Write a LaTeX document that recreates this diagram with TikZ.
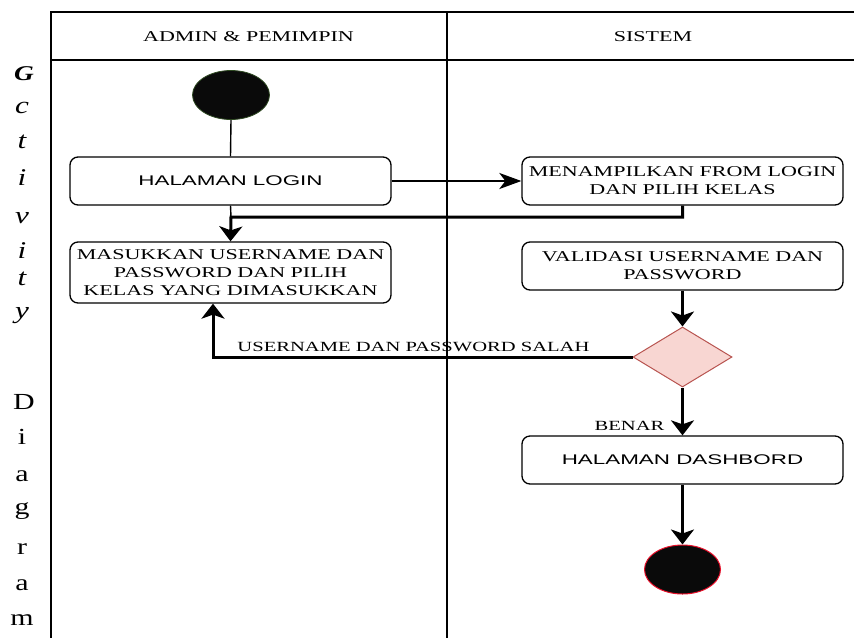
\documentclass[tikz,border=0pt]{standalone}
\usepackage{fontspec}
\setmainfont{Liberation Serif}
\newfontfamily\wideserif[FakeStretch=1.47]{Liberation Serif}
\newfontfamily\widesans[FakeStretch=1.6]{Liberation Sans}
\newfontfamily\sideserif[FakeStretch=1.3]{Liberation Serif}
\usetikzlibrary{arrows.meta,shapes.geometric}

\definecolor{diafill}{HTML}{F8D6D2}
\definecolor{diadraw}{HTML}{B85450}
\definecolor{startrim}{HTML}{2F4A22}
\definecolor{endrim}{HTML}{E8102A}
\definecolor{dot}{HTML}{0A0A0A}

\tikzset{
  lane/.style={line width=1.5pt},
  actbox/.style={draw, line width=1.3pt, rounded corners=8pt, inner sep=0pt,
    minimum width=321pt, minimum height=48pt, align=center,
    font=\wideserif\fontsize{15}{18}\selectfont},
  sansbox/.style={actbox, font=\widesans\fontsize{14}{17}\selectfont},
  thinline/.style={line width=1.4pt},
  flow/.style={line width=3pt,
    -{Stealth[length=15pt,width=23pt,inset=4pt]}},
  flowh/.style={line width=2.4pt,
    -{Stealth[length=22pt,width=16pt,inset=6pt]}},
  lbl/.style={inner sep=0pt, anchor=base, font=\wideserif\fontsize{14}{17}\selectfont},
  head/.style={inner sep=0pt, anchor=base, font=\wideserif\fontsize{15}{18}\selectfont},
  sidelet/.style={inner sep=0pt, font=\sideserif\fontsize{23}{23}\selectfont},
  sideit/.style={inner sep=0pt, font=\sideserif\fontsize{24}{24}\selectfont\itshape},
}

\begin{document}
\begin{tikzpicture}[x=1pt,y=-1pt]
\useasboundingbox (0,0) rectangle (854,638);

% swimlane frame
\draw[lane] (854,12) -- (51,12) -- (51,638);
\draw[lane] (51,60) -- (854,60);
\draw[lane] (447,12) -- (447,638);
\node[head] (hadmin) at (248.5,41) {ADMIN \& PEMIMPIN};
\node[head] (hsys) at (653,41) {SISTEM};

% vertical title beside the frame
\node[sideit, font=\sideserif\fontsize{21}{21}\selectfont\bfseries\itshape] (l1) at (24,74) {G};
\node[sideit] (l2) at (22,108) {c};
\node[sideit] (l3) at (22,142) {t};
\node[sideit] (l4) at (22,178) {i};
\node[sideit] (l5) at (22,218) {v};
\node[sideit] (l6) at (22,251) {i};
\node[sideit] (l7) at (22,279) {t};
\node[sideit] (l8) at (22,316) {y};
\node[sidelet] (d1) at (24,402) {D};
\node[sidelet] (d2) at (22,437) {i};
\node[sidelet] (d3) at (22,476) {a};
\node[sidelet] (d4) at (22,511) {g};
\node[sidelet] (d5) at (22,549) {r};
\node[sidelet] (d6) at (22,585) {a};
\node[sidelet] (d7) at (22,620) {m};

% activity nodes
\node[ellipse, draw=startrim, line width=0.8pt, fill=dot,
      minimum width=77pt, minimum height=49pt, inner sep=0pt] (start) at (231,95) {};
\node[sansbox] (login) at (230.5,181) {HALAMAN LOGIN};
\node[actbox] (form) at (682.5,181) {MENAMPILKAN FROM LOGIN\\DAN PILIH KELAS};
\node[actbox, minimum height=61pt] (input) at (230.5,272.5)
  {MASUKKAN USERNAME DAN\\PASSWORD DAN PILIH\\KELAS YANG DIMASUKKAN};
\node[actbox] (valid) at (682.5,266) {VALIDASI USERNAME DAN\\PASSWORD};
\node[diamond, draw=diadraw, fill=diafill, line width=1pt, inner sep=0pt,
      minimum width=99pt, minimum height=60pt] (check) at (682.5,357) {};
\node[sansbox] (dash) at (682.5,460) {HALAMAN DASHBORD};
\node[ellipse, draw=endrim, line width=1pt, fill=dot,
      minimum width=76pt, minimum height=49pt, inner sep=0pt] (stop) at (682.5,569.5) {};

\coordinate (merge) at (231,217);

% connectors
\draw[thinline] (start.south) -- (login.north);
\draw[thinline] (login.south) -- (merge);
\draw[flowh] (login.east) -- (form.west);
\draw[flow] (form.south) |- (merge) -- (input.north);
\draw[flow] (valid.south) -- (check.north);
\draw[flow] (check.west) -| ([xshift=-17.5pt]input.south);
\node[lbl] (wrong) at (413.5,351) {USERNAME DAN PASSWORD SALAH};
\draw[flow] (check.south) -- (dash.north);
\node[lbl] (ok) at (629.5,430) {BENAR};
\draw[flow] (dash.south) -- (stop.north);
\end{tikzpicture}
\end{document}
